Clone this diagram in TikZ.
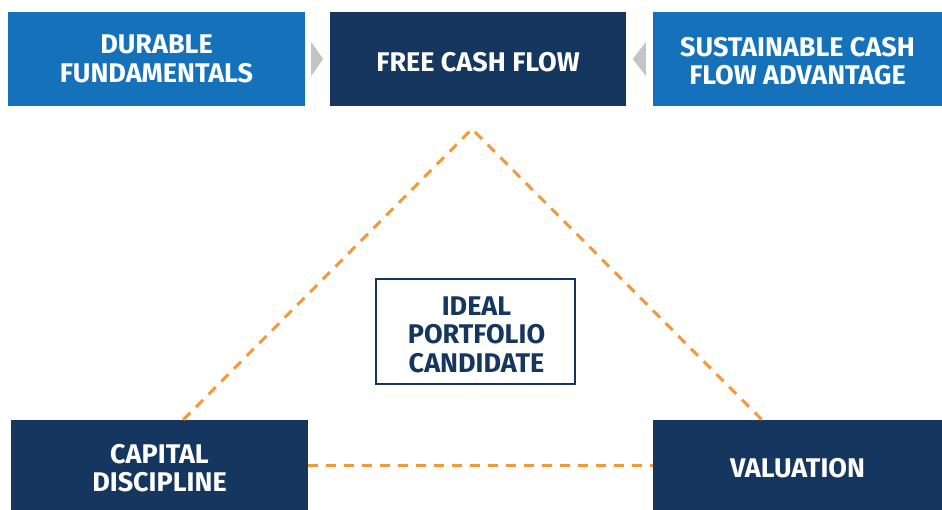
\documentclass[tikz,border=0pt]{standalone}
\usepackage{fontspec}
\setsansfont{Fira Sans}
\usetikzlibrary{positioning}
\usetikzlibrary{calc}
\definecolor{lightblue}{HTML}{1471BA}
\definecolor{navy}{HTML}{15375F}
\definecolor{dashorange}{HTML}{F4993A}
\definecolor{arrowgray}{HTML}{C4C4C4}
\newcommand{\boxfont}{\sffamily\bfseries\fontsize{27}{28.5}\selectfont}

\begin{document}
\begin{tikzpicture}[x=1pt,y=-1pt,
  boxtext/.style={align=center, inner sep=0pt, font=\boxfont, yshift=-3pt},
  lightbox/.style={fill=lightblue, minimum height=94pt, inner sep=0pt},
  darkbox/.style={fill=navy, minimum height=94pt, inner sep=0pt},
  idealbox/.style={draw=navy, line width=2pt, minimum width=199pt, minimum height=105pt, inner sep=0pt},
  dashline/.style={draw=dashorange, line width=3pt, dash pattern=on 10pt off 8pt}]
  \useasboundingbox (0,0) rectangle (942,510);
  \node[lightbox, minimum width=297pt, label={[boxtext, text=white, yshift=3pt]center:DURABLE\\FUNDAMENTALS}] (durable) at (156.5,59) {};
  \node[darkbox, minimum width=296pt, label={[boxtext, text=white]center:FREE CASH FLOW}] (freecash) at (478,59) {};
  \node[lightbox, minimum width=289pt, label={[boxtext, text=white, yshift=1pt]center:SUSTAINABLE CASH\\FLOW ADVANTAGE}] (sustain) at (797.5,59) {};
  \node[darkbox, minimum width=297pt, minimum height=90pt, label={[boxtext, text=white]center:CAPITAL\\DISCIPLINE}] (capital) at (159.5,465) {};
  \node[darkbox, minimum width=289pt, minimum height=90pt, label={[boxtext, text=white]center:VALUATION}] (valuation) at (797.5,465) {};
  \node[idealbox, label={[boxtext, text=navy, xshift=1pt]center:IDEAL\\PORTFOLIO\\CANDIDATE}] (ideal) at (475.5,331.5) {};
  \fill[arrowgray] (durable.east) ++(6,-17) -- ++(12,17) -- ++(-12,17) -- cycle;
  \fill[arrowgray] (sustain.west) ++(-7,-17) -- ++(-13,17) -- ++(13,17) -- cycle;
  \coordinate (apex) at (472,129);
  \coordinate (capitaltop) at ($(capital.north west)!0.58!(capital.north east)$);
  \coordinate (valuationtop) at ($(valuation.north west)!0.377!(valuation.north east)$);
  \draw[dashline] (capitaltop) -- (apex) -- (valuationtop);
  \draw[dashline] (capital.east) -- (valuation.west);
\end{tikzpicture}
\end{document}
